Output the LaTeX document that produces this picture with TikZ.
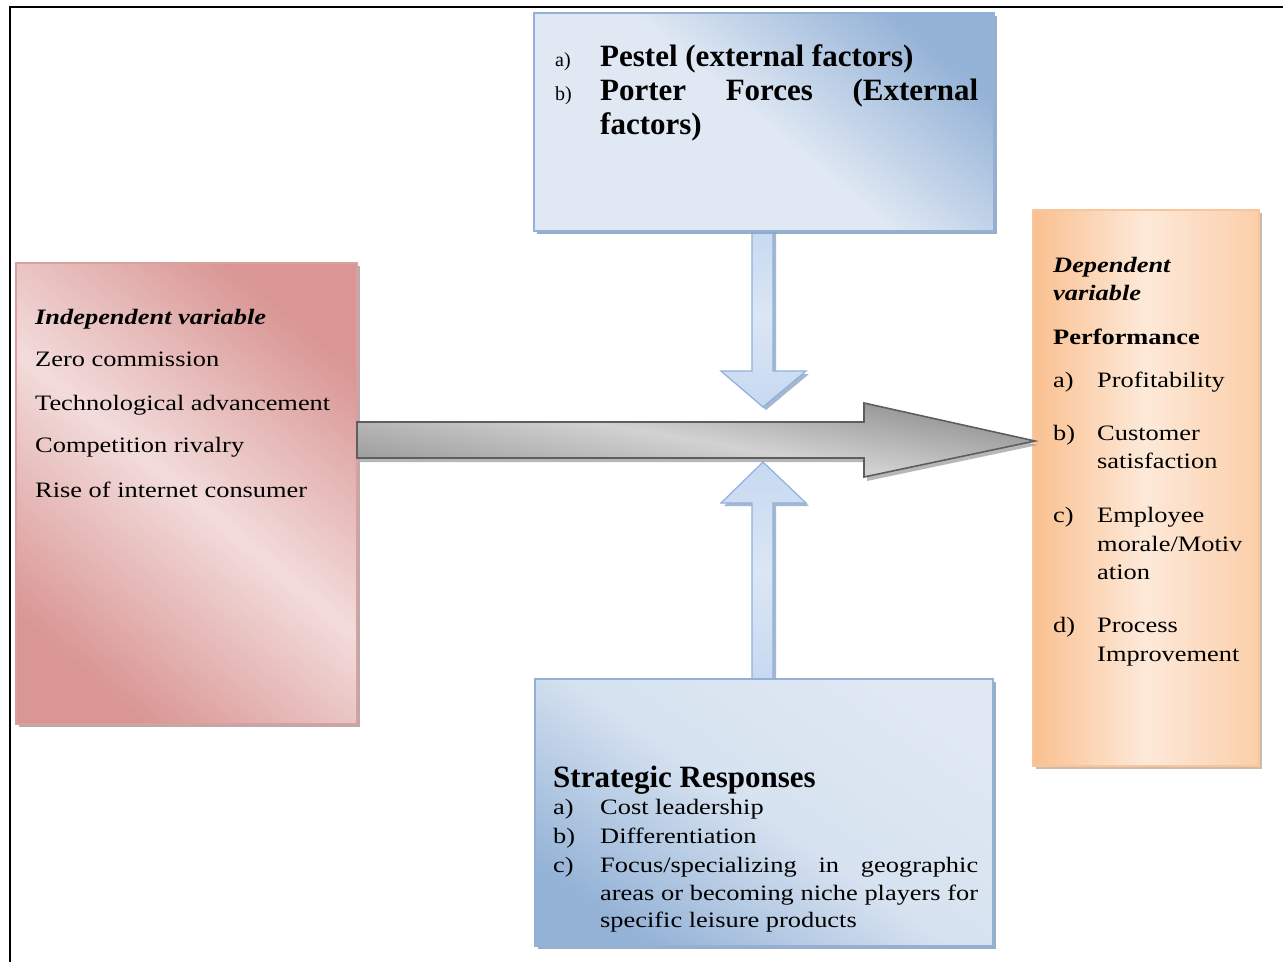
\documentclass[tikz,border=0pt]{standalone}
\usepackage{fontspec}
\setmainfont{Liberation Serif}
\newfontfamily\widefam[FakeStretch=1.2]{Liberation Serif}
\usetikzlibrary{shadows,calc}
\definecolor{blueD}{HTML}{95B3D7}
\definecolor{blueL}{HTML}{DFE8F3}
\definecolor{blueM}{HTML}{C4D5EA}
\definecolor{blueB}{HTML}{93B0D6}
\definecolor{blueS}{HTML}{8FA6C4}
\definecolor{pinkD}{HTML}{D99694}
\definecolor{pinkL}{HTML}{F2DCDB}
\definecolor{pinkB}{HTML}{D9A0A0}
\definecolor{pinkS}{HTML}{B8A0A0}
\definecolor{orD}{HTML}{FAC090}
\definecolor{orL}{HTML}{FDE9D9}
\definecolor{orB}{HTML}{F9C59A}
\definecolor{orS}{HTML}{C8B4A4}
\definecolor{arD}{HTML}{8C8C8C}
\definecolor{arL}{HTML}{D2D2D2}
\definecolor{arB}{HTML}{5E5E5E}
\definecolor{smallF}{HTML}{C6D9F1}
\definecolor{smallL}{HTML}{DCE6F4}
\definecolor{smallB}{HTML}{8EB1DE}
\begin{document}
\begin{tikzpicture}[x=1pt,y=-1pt,
  boxbase/.style={line width=1.6pt, inner sep=0pt, anchor=north west},
  topbox/.style={boxbase, draw=blueB, top color=blueD, bottom color=blueL, middle color=blueL, shading angle=-40,
     drop shadow={shadow xshift=3pt, shadow yshift=-3pt, fill=blueS, opacity=.9}},
  botbox/.style={boxbase, draw=blueB, top color=blueL, bottom color=blueD, middle color=blueL!70!blueM, shading angle=-35,
     drop shadow={shadow xshift=3pt, shadow yshift=-3pt, fill=blueS, opacity=.9}},
  pinkbox/.style={boxbase, draw=pinkB, top color=pinkD, bottom color=pinkD, middle color=pinkL, shading angle=-40,
     drop shadow={shadow xshift=3pt, shadow yshift=-3pt, fill=pinkS, opacity=.9}},
  orbox/.style={boxbase, draw=orB, left color=orD, right color=orD!65!orL, middle color=orL,
     drop shadow={shadow xshift=3pt, shadow yshift=-3pt, fill=orS, opacity=.9}},
  grayarrow/.style={draw=arB, line width=1.6pt, line join=miter, top color=arD, bottom color=arD!80!arL, middle color=arL, shading angle=-10,
     drop shadow={shadow xshift=3pt, shadow yshift=-4pt, fill=gray!70, opacity=.8}},
  bluearrow/.style={draw=smallB, line width=1.2pt, line join=miter, top color=smallF, bottom color=smallF, middle color=smallL,
     drop shadow={shadow xshift=3pt, shadow yshift=-3pt, fill=blueS, opacity=.8}},
  txt/.style={anchor=base west, inner sep=0pt, text=black},
  wtxt/.style={txt, font=\fontsize{22}{26}\selectfont\widefam},
  whdr/.style={txt, font=\fontsize{22}{26}\selectfont\widefam\bfseries\itshape},
  wbold/.style={txt, font=\fontsize{22}{26}\selectfont\widefam\bfseries},
  tbig/.style={txt, font=\fontsize{31}{36}\selectfont\bfseries},
  lbl/.style={txt, font=\fontsize{20}{24}\selectfont}
]
\useasboundingbox (0,0) rectangle (1283,962);
\fill[white] (0,0) rectangle (1283,962);

% frame
\coordinate (fBL) at (10,962);
\coordinate (fTL) at (10,6.5);
\coordinate (fTR) at (1283,6.5);
\draw[line width=2pt] (fBL) -- (fTL) -- (fTR);

% small blue arrows (behind the boxes)
\coordinate (dTip) at (763,407);
\coordinate (uTip) at (763,462);
\draw[bluearrow] (752,226) -- (752,371) -- (721,371) -- (dTip) -- (806,371) -- (773,371) -- (773,226) -- cycle;
\draw[bluearrow] (752,682) -- (752,503) -- (721,503) -- (uTip) -- (806,503) -- (773,503) -- (773,682) -- cycle;

% boxes
\node[topbox, minimum width=460pt, minimum height=218pt] (top) at (533,12) {};
\node[botbox, minimum width=458pt, minimum height=267pt] (bot) at (534,678) {};
\node[pinkbox, minimum width=341pt, minimum height=461pt] (indep) at (15,262) {};
\node[orbox, minimum width=226pt, minimum height=556pt] (dep) at (1032,209) {};

% big gray arrow from independent to dependent variable
\coordinate (gS) at (357,440);
\coordinate (gT) at (1035,441);
\draw[grayarrow] ($(gS)+(0,-18)$) -- (864,422) -- (864,403) -- (gT) -- (864,477) -- (864,458) -- ($(gS)+(0,18)$) -- cycle;

% top box text
\node[lbl] (ta) at (555,66) {a)};
\node[tbig] (t1) at (600,66) {Pestel (external factors)};
\node[lbl] (tb) at (555,100) {b)};
\node[tbig] (t2) at (600,100) {\hbox to 378pt{Porter\hfill Forces\hfill (External}};
\node[tbig] (t3) at (600,134) {factors)};

% independent variable text
\node[whdr] (i0) at (35,324) {Independent variable};
\node[wtxt] (i1) at (35,366) {Zero commission};
\node[wtxt] (i2) at (35,410) {Technological advancement};
\node[wtxt] (i3) at (35,452) {Competition rivalry};
\node[wtxt] (i4) at (35,497) {Rise of internet consumer};

% dependent variable text
\node[whdr] (d0) at (1053,272) {Dependent};
\node[whdr] (d0b) at (1053,300) {variable};
\node[wbold] (d1) at (1053,344) {Performance};
\node[wtxt] (da) at (1053,387) {a)};
\node[wtxt] (da1) at (1097,387) {Profitability};
\node[wtxt] (db) at (1053,440) {b)};
\node[wtxt] (db1) at (1097,440) {Customer};
\node[wtxt] (db2) at (1097,468) {satisfaction};
\node[wtxt] (dc) at (1053,522) {c)};
\node[wtxt] (dc1) at (1097,522) {Employee};
\node[wtxt] (dc2) at (1097,551) {morale/Motiv};
\node[wtxt] (dc3) at (1097,579) {ation};
\node[wtxt] (dd) at (1053,632) {d)};
\node[wtxt] (dd1) at (1097,632) {Process};
\node[wtxt] (dd2) at (1097,661) {Improvement};

% strategic responses text
\node[tbig] (s0) at (553,787) {Strategic Responses};
\node[wtxt] (sa) at (553,814) {a)};
\node[wtxt] (sa1) at (600,814) {Cost leadership};
\node[wtxt] (sb) at (553,843) {b)};
\node[wtxt] (sb1) at (600,843) {Differentiation};
\node[wtxt] (sc) at (553,872) {c)};
\node[wtxt] (sc1) at (600,872) {\hbox to 378pt{Focus/specializing\hfill in\hfill geographic}};
\node[wtxt] (sc2) at (600,900) {\hbox to 378pt{areas\hfill or\hfill becoming\hfill niche\hfill players\hfill for}};
\node[wtxt] (sc3) at (600,927) {specific leisure products};
\end{tikzpicture}
\end{document}
